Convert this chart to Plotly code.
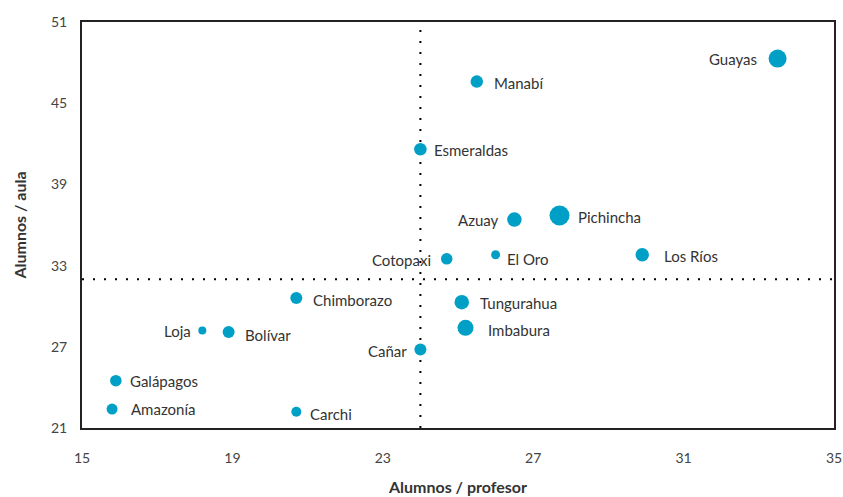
import plotly.graph_objects as go

# ---- data ----
regions = ["Guayas", "Manabí", "Esmeraldas", "Azuay", "Pichincha", "Cotopaxi",
           "El Oro", "Los Ríos", "Chimborazo", "Tungurahua", "Imbabura", "Loja",
           "Bolívar", "Cañar", "Galápagos", "Amazonía", "Carchi"]
alumnos_profesor = [33.5, 25.5, 24.0, 26.5, 27.7, 24.7,
                    26.0, 29.9, 20.7, 25.1, 25.2, 18.2,
                    18.9, 24.0, 15.9, 15.8, 20.7]
alumnos_aula = [48.3, 46.6, 41.6, 36.4, 36.7, 33.5,
                33.8, 33.8, 30.6, 30.3, 28.4, 28.2,
                28.1, 26.8, 24.5, 22.4, 22.2]
bubble_px = [18, 12.5, 12.5, 14.5, 20, 11.5,
             9, 13.5, 12, 14.5, 16, 8,
             12, 12, 11.5, 11, 10]

mean_profesor = 24.0
mean_aula = 32.0

x_ticks = [15, 19, 23, 27, 31, 35]
y_ticks = [21, 27, 33, 39, 45, 51]

# label placement (style)
label_side = ["left", "right", "right", "left", "right", "left",
              "right", "right", "right", "right", "right", "left",
              "right", "left", "right", "right", "right"]
label_gap = [10, 9, 5, 6, 6, 8, 5, 13, 9, 9, 12, 5, 8, 5, 6, 11, 7]
label_dy = [0, -1, -1, 0, -1, -1, -4, -1, -2, -1, -2, 0, -3, -1, 0, 0, -2]

COLOR = "#00a0c6"
TEXT = "#333333"
FONT = "Lato"

fig = go.Figure()

fig.add_trace(go.Scatter(
    x=alumnos_profesor, y=alumnos_aula, mode="markers",
    marker=dict(size=bubble_px, color=COLOR, opacity=1, line=dict(width=0)),
    hovertext=regions, showlegend=False, cliponaxis=False,
))

# reference lines
fig.add_shape(type="line", xref="x", yref="paper", x0=mean_profesor, x1=mean_profesor,
              y0=0, y1=1, line=dict(color="black", width=2, dash="2px,9px"), layer="below")
fig.add_shape(type="line", xref="paper", yref="y", x0=0, x1=1,
              y0=mean_aula, y1=mean_aula, line=dict(color="black", width=2, dash="2px,9px"), layer="below")

for name, xv, yv, s, side, gap, dy in zip(regions, alumnos_profesor, alumnos_aula,
                                          bubble_px, label_side, label_gap, label_dy):
    shift = s / 2 + gap
    fig.add_annotation(
        x=xv, y=yv, text=name, showarrow=False,
        xanchor="left" if side == "right" else "right",
        xshift=shift if side == "right" else -shift,
        yshift=dy,
        font=dict(family=FONT, size=15, color=TEXT),
    )

fig.update_layout(
    width=843, height=497,
    margin=dict(l=82, r=9, t=22, b=69, autoexpand=False),
    paper_bgcolor="white", plot_bgcolor="white",
    font=dict(family=FONT, color=TEXT),
)
fig.update_xaxes(
    range=[15, 35], tickvals=x_ticks, ticktext=[str(v) for v in x_ticks],
    showgrid=False, zeroline=False, showline=True, mirror=True, automargin=False,
    linecolor="#222222", linewidth=2, ticks="", ticklabelstandoff=16,
    ticklabeloverflow="allow",
    tickfont=dict(family=FONT, size=14, color="#444444"),
    title=dict(text="<b>Alumnos / profesor</b>", standoff=17,
               font=dict(family=FONT, size=16, color=TEXT)),
)
fig.update_yaxes(
    range=[21, 51], tickvals=y_ticks, ticktext=[str(v) for v in y_ticks],
    showgrid=False, zeroline=False, showline=True, mirror=True, automargin=False,
    linecolor="#222222", linewidth=2, ticks="", ticklabelstandoff=10,
    tickfont=dict(family=FONT, size=14, color="#444444"),
    title=dict(text="<b>Alumnos / aula</b>", standoff=20,
               font=dict(family=FONT, size=16, color=TEXT)),
)

# remove the browser's default 8px body margin so the figure fills the window exactly
fig.write_html("out.html",
               config={"displayModeBar": False},
               post_script="document.body.style.margin='0';document.body.style.overflow='hidden';")
